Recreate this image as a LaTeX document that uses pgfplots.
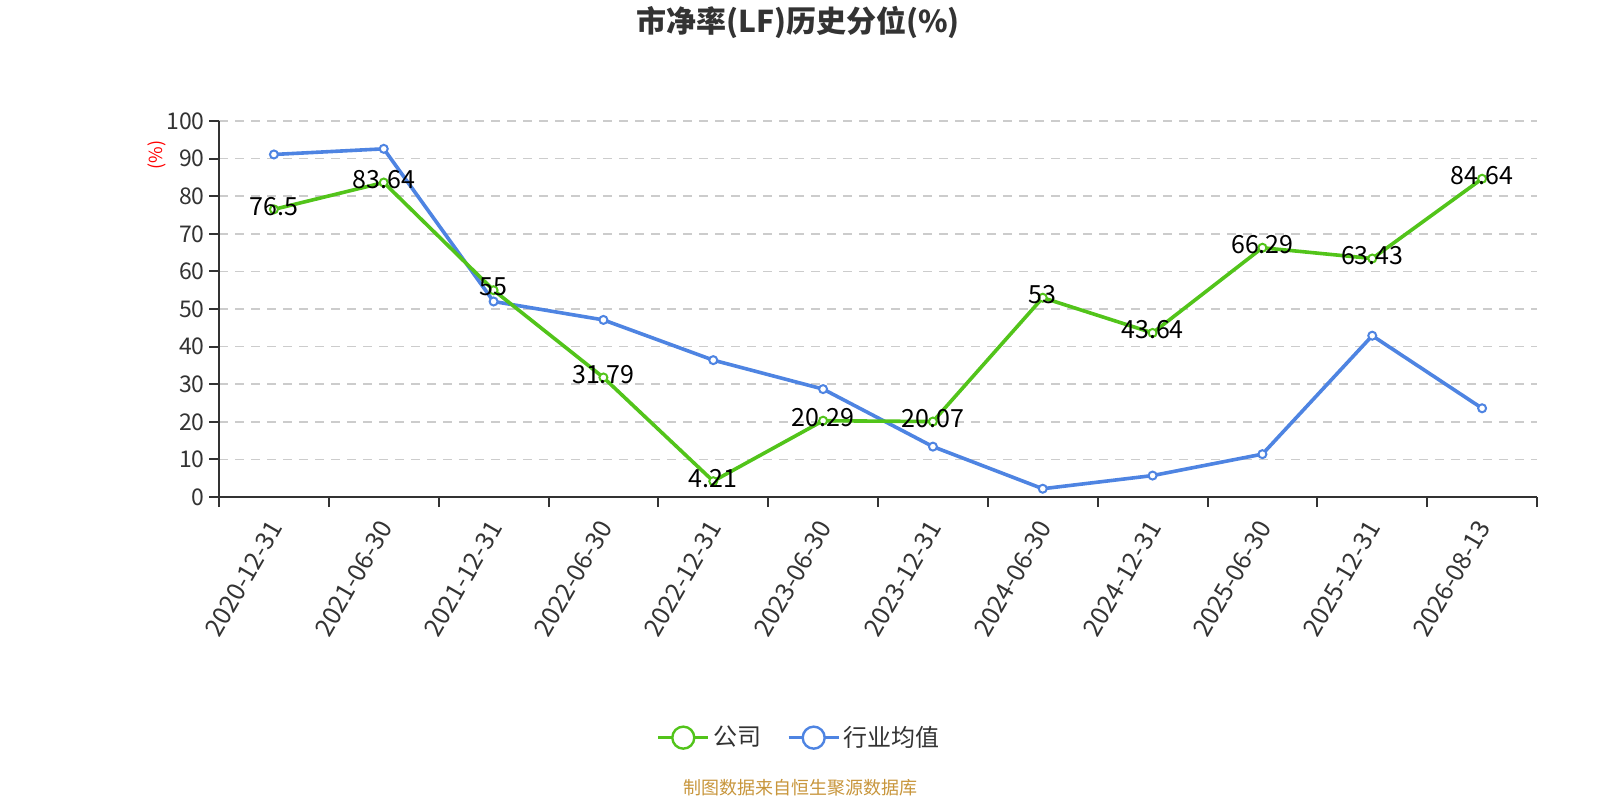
\documentclass[border=0pt]{standalone}
\usepackage{fontspec}
\setmainfont{Noto Sans CJK SC}
\usepackage{pgfplots}
\pgfplotsset{compat=1.18}
\usepackage{pgfplotstable}
\definecolor{cgreen}{RGB}{82,196,26}
\definecolor{cblue}{RGB}{78,132,226}
\definecolor{axgray}{RGB}{51,51,51}
\definecolor{gridgray}{RGB}{204,204,204}
\definecolor{foot}{RGB}{200,150,60}

\pgfplotstableread{
x y lab
0 76.5 76.5
1 83.64 83.64
2 55 55
3 31.79 31.79
4 4.21 4.21
5 20.29 20.29
6 20.07 20.07
7 53 53
8 43.64 43.64
9 66.29 66.29
10 63.43 63.43
11 84.64 84.64
}\company

\pgfplotstableread{
x y
0 91.1
1 92.6
2 52.0
3 47.1
4 36.4
5 28.7
6 13.4
7 2.2
8 5.7
9 11.4
10 42.9
11 23.6
}\industry

\begin{document}
\begin{tikzpicture}
\path[use as bounding box, fill=white] (0,0) rectangle (800pt,400pt);
\node[font=\bfseries\fontsize{15}{17}\selectfont, text=axgray] at (399pt,388.75pt) {市净率(LF)历史分位(\%)};
\node[font=\fontsize{9}{11}\selectfont, text=foot] at (400pt,6pt) {制图数据来自恒生聚源数据库};
\node[font=\fontsize{9}{11}\selectfont, text=red, rotate=90] at (78.3pt,322.5pt) {(\%)};
\begin{axis}[
  at={(109.5pt,151.5pt)}, anchor=south west,
  scale only axis, width=659pt, height=188pt,
  xmin=-0.5, xmax=11.5, ymin=0, ymax=100,
  clip=false,
  axis x line*=bottom, axis y line*=left,
  axis line style={axgray, line width=1pt, -},
  xtick={-0.5,0.5,1.5,2.5,3.5,4.5,5.5,6.5,7.5,8.5,9.5,10.5,11.5},
  xticklabels={},
  extra x ticks={0,1,2,3,4,5,6,7,8,9,10,11},
  extra x tick labels={2020-12-31,2021-06-30,2021-12-31,2022-06-30,2022-12-31,2023-06-30,2023-12-31,2024-06-30,2024-12-31,2025-06-30,2025-12-31,2026-08-13},
  extra x tick style={major tick length=0pt,
    xticklabel style={inner sep=0pt, anchor=east, xshift=1pt, yshift=-13pt, rotate=60, font=\fontsize{12.5}{14}\selectfont, text=axgray}},
  ytick={0,10,...,100},
  ymajorgrids,
  grid style={gridgray, dash pattern=on 4.5pt off 3.5pt, line width=0.8pt},
  tick align=outside, major tick length=5pt,
  tick style={axgray, line width=1pt},
  yticklabel style={font=\fontsize{11.5}{13}\selectfont, text=axgray, inner sep=2pt},
  /pgf/number format/assume math mode=true,
  legend style={at={(0.4412,-0.640)}, anchor=center, draw=none, fill=none,
    font=\fontsize{12}{14}\selectfont, text=axgray, legend columns=2,
    /tikz/every even column/.append style={column sep=11pt}},
  reverse legend,
]
\addplot[cblue, line width=1.8pt, mark=*, mark size=2pt,
  mark options={fill=white, draw=cblue, line width=1pt},
  legend image code/.code={\draw[cblue, line width=1.2pt] (0pt,0pt) -- (25pt,0pt);
    \draw[cblue, line width=1.2pt, fill=white] (12.5pt,0pt) circle (5.5pt);}]
  table[x=x, y=y] {\industry};
\addlegendentry{行业均值}
\addplot[cgreen, line width=1.8pt, mark=*, mark size=2pt,
  mark options={fill=white, draw=cgreen, line width=1pt},
  nodes near coords, point meta=explicit symbolic,
  every node near coord/.append style={anchor=center, yshift=1.5pt, inner sep=0pt,
    font=\fontsize{12.5}{14}\selectfont, text=black},
  legend image code/.code={\draw[cgreen, line width=1.2pt] (0pt,0pt) -- (25pt,0pt);
    \draw[cgreen, line width=1.2pt, fill=white] (12.5pt,0pt) circle (5.5pt);}]
  table[x=x, y=y, meta=lab] {\company};
\addlegendentry{公司}
\end{axis}
\end{tikzpicture}
\end{document}
